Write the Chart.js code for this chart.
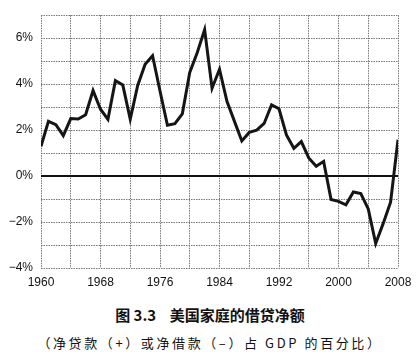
<!DOCTYPE html>
<html>
<head>
<meta charset="utf-8">
<script src="https://cdn.jsdelivr.net/npm/chart.js@4.4.1/dist/chart.umd.min.js"></script>
<style>
  html, body { margin: 0; padding: 0; background: #fff; }
  #wrap { position: relative; width: 420px; height: 360px; overflow: hidden; }
  #box { position: absolute; left: 0; top: 0; width: 420px; height: 300px; }
  .cap { position: absolute; left: 0; width: 420px; text-align: center; color: #111; white-space: nowrap; }
  #t1 { top: 304px; font: bold 15px "Noto Sans CJK SC", sans-serif; }
  #t2 { top: 333px; font: 13px "Noto Sans CJK SC", sans-serif; letter-spacing: 2.6px; }
</style>
</head>
<body>
<div id="wrap">
  <div id="box"><canvas id="c"></canvas></div>
  <div class="cap" id="t1">图 3.3&nbsp;&nbsp;&nbsp;&nbsp;美国家庭的借贷净额</div>
  <div class="cap" id="t2">（净贷款（+）或净借款（–）占 GDP 的百分比）</div>
</div>
<script>
const years = [1960,1961,1962,1963,1964,1965,1966,1967,1968,1969,
  1970,1971,1972,1973,1974,1975,1976,1977,1978,1979,
  1980,1981,1982,1983,1984,1985,1986,1987,1988,1989,
  1990,1991,1992,1993,1994,1995,1996,1997,1998,1999,
  2000,2001,2002,2003,2004,2005,2006,2007,2008];
const netLending = [1.30,2.38,2.24,1.76,2.50,2.48,2.67,3.72,2.91,2.47,
  4.15,3.96,2.47,3.94,4.87,5.24,3.70,2.21,2.28,2.71,
  4.51,5.37,6.37,3.82,4.65,3.25,2.39,1.53,1.90,2.00,
  2.29,3.10,2.93,1.79,1.21,1.50,0.79,0.43,0.64,-1.02,
  -1.10,-1.25,-0.69,-0.76,-1.43,-2.93,-2.07,-1.14,1.58];
const xLabelYears = [1960,1968,1976,1984,1992,2000,2008];
const yLabelValues = [-4,-2,0,2,4,6];

const zeroLine = {
  id: 'zeroLine',
  beforeDatasetsDraw(chart) {
    const {ctx, chartArea, scales} = chart;
    const y = scales.y.getPixelForValue(0);
    ctx.save();
    ctx.strokeStyle = '#111';
    ctx.lineWidth = 2;
    ctx.beginPath();
    ctx.moveTo(chartArea.left, y);
    ctx.lineTo(chartArea.right, y);
    ctx.stroke();
    ctx.restore();
  }
};

new Chart(document.getElementById('c'), {
  type: 'line',
  data: {
    datasets: [{
      data: years.map((yr, i) => ({x: yr, y: netLending[i]})),
      borderColor: '#151515',
      borderWidth: 3,
      pointRadius: 0,
      tension: 0,
      fill: false
    }]
  },
  options: {
    responsive: true,
    maintainAspectRatio: false,
    animation: false,
    layout: { padding: { left: 0, right: 22, top: 13, bottom: 0 } },
    plugins: { legend: { display: false }, tooltip: { enabled: false } },
    scales: {
      x: {
        type: 'linear',
        min: 1960, max: 2008,
        afterFit(s) { s.height = 32; },
        ticks: {
          stepSize: 4,
          autoSkip: false,
          maxRotation: 0,
          padding: 7,
          color: '#111',
          font: { family: 'Liberation Sans', size: 12 },
          callback: v => xLabelYears.includes(v) ? String(v) : ''
        },
        grid: { color: '#777', lineWidth: 1, drawTicks: false },
        border: { display: false, dash: [1.5, 1] }
      },
      y: {
        min: -4, max: 7,
        afterFit(s) { s.width = 41; },
        ticks: {
          stepSize: 1,
          padding: 8,
          color: '#111',
          font: { family: 'Liberation Sans', size: 12 },
          callback: v => yLabelValues.includes(v) ? (v < 0 ? '\u2212' + Math.abs(v) : v) + '%' : ''
        },
        grid: { color: '#777', lineWidth: 1, drawTicks: false },
        border: { display: false, dash: [1.5, 1] }
      }
    }
  },
  plugins: [zeroLine]
});
</script>
</body>
</html>
